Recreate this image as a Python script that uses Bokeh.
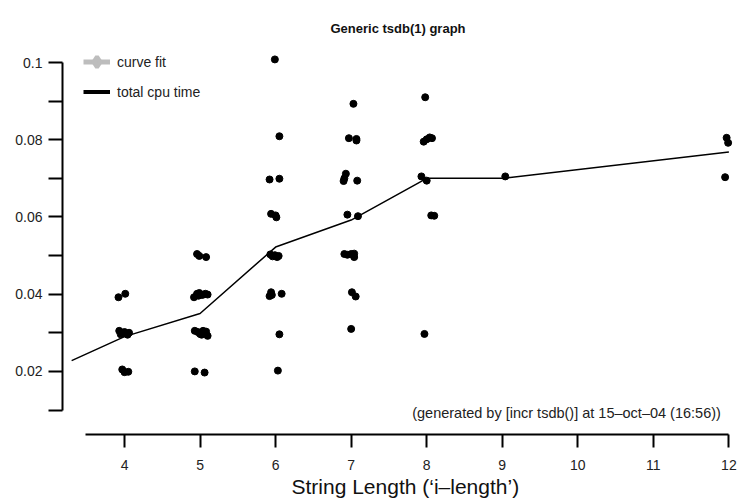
from bokeh.plotting import figure
from bokeh.models import (Range1d, FixedTicker, CustomJSTickFormatter, Legend,
                          LegendItem, Label, Title)
from bokeh.embed import file_html
from bokeh.resources import INLINE

# ---- data ----
title_text = "Generic tsdb(1) graph"
x_label = "String Length (\u2018i\u2013length\u2019)"
note_text = "(generated by [incr tsdb()] at 15\u2013oct\u201304 (16:56))"

x_ticks = [4, 5, 6, 7, 8, 9, 10, 11, 12]
y_major = [0.02, 0.04, 0.06, 0.08, 0.1]
y_minor = [0.01, 0.03, 0.05, 0.07, 0.09]
x_axis_bounds = (3.484, 12)
y_axis_bounds = (0.01, 0.1)

# individual measurements (x jittered around the string length)
len4_x = [3.92, 4.01, 3.93, 3.97, 4.0, 4.04, 4.06, 3.95, 3.97, 4.0, 4.05]
len4_y = [0.0392, 0.0401, 0.0305, 0.0298, 0.0302, 0.0295, 0.0300, 0.0296, 0.0205, 0.0198, 0.0199]

len5_x = [4.96, 4.99, 5.08, 4.92, 4.96, 4.99, 5.03, 5.07, 5.10, 4.98,
          4.93, 4.97, 5.00, 5.04, 5.08, 5.10, 5.02, 4.93, 5.06]
len5_y = [0.0504, 0.0499, 0.0496, 0.0392, 0.0401, 0.0403, 0.0398, 0.0401, 0.0399, 0.0396,
          0.0305, 0.0302, 0.0297, 0.0305, 0.0303, 0.0292, 0.0295, 0.0200, 0.0197]

len6_x = [5.99, 6.05, 5.92, 6.05, 5.94, 6.00, 6.01, 5.93, 5.96, 5.99, 6.02, 6.04,
          5.92, 5.94, 5.95, 6.08, 6.05, 6.03]
len6_y = [0.1008, 0.0809, 0.0697, 0.0699, 0.0608, 0.0604, 0.0599, 0.0503, 0.0498, 0.0501, 0.0496, 0.0499,
          0.0395, 0.0405, 0.0398, 0.0401, 0.0296, 0.0202]

len7_x = [7.03, 6.97, 7.07, 7.07, 6.93, 6.90, 7.08, 6.91, 6.95, 7.09,
          6.91, 6.95, 7.00, 7.04, 7.04, 7.01, 7.06, 7.00]
len7_y = [0.0893, 0.0804, 0.0802, 0.0798, 0.0712, 0.0693, 0.0694, 0.0700, 0.0606, 0.0602,
          0.0504, 0.0502, 0.0504, 0.0496, 0.0505, 0.0405, 0.0394, 0.0310]

len8_x = [7.98, 7.96, 8.00, 8.04, 8.07, 7.93, 8.00, 8.06, 8.10, 7.97]
len8_y = [0.0910, 0.0795, 0.0801, 0.0806, 0.0804, 0.0705, 0.0694, 0.0604, 0.0603, 0.0297]

len9_x = [9.04]
len9_y = [0.0705]

len12_x = [11.97, 11.99, 11.95]
len12_y = [0.0805, 0.0792, 0.0703]

# mean total cpu time per string length
mean_x = [3.3, 4, 5, 6, 7, 8, 9, 12]
mean_y = [0.0228, 0.0290, 0.0350, 0.0522, 0.0592, 0.0700, 0.0700, 0.0768]

pts_x = len4_x + len5_x + len6_x + len7_x + len8_x + len9_x + len12_x
pts_y = len4_y + len5_y + len6_y + len7_y + len8_y + len9_y + len12_y

FONT = "Liberation Sans"
NAN = float("nan")

p = figure(width=737, height=499, output_backend="svg", toolbar_location=None,
           x_range=Range1d(3.179, 12.061), y_range=Range1d(0.003655, 0.1057),
           min_border_left=62, min_border_right=4, min_border_top=40,
           min_border_bottom=65, title=title_text)
p.outline_line_color = None
p.grid.visible = False
p.background_fill_color = "white"
p.border_fill_color = "white"

p.title.text_font = FONT
p.title.text_font_size = "13px"
p.title.text_font_style = "bold"
p.title.align = "center"
p.title.text_line_height = 1.5
p.title.text_color = "#111111"
p.title.standoff = 10

# x axis
xa = p.xaxis[0]
xa.ticker = FixedTicker(ticks=x_ticks)
xa.bounds = x_axis_bounds
xa.axis_line_width = 2
xa.major_tick_line_width = 2
xa.major_tick_out = 13
xa.major_tick_in = 0
xa.minor_tick_line_color = None
xa.major_label_text_font = FONT
xa.major_label_text_font_size = "14px"
xa.major_label_text_color = "#222222"
xa.major_label_standoff = 12

# x axis title (placed so it is centred on the bounded axis line)
xtitle = Title(text=x_label, align="left", offset=229, standoff=0,
               text_font=FONT, text_font_size="21px", text_font_style="normal",
               text_color="#111111")
p.add_layout(xtitle, "below")

# y axis
ya = p.yaxis[0]
ya.ticker = FixedTicker(ticks=y_major, minor_ticks=y_minor)
ya.bounds = y_axis_bounds
ya.formatter = CustomJSTickFormatter(code="return String(Math.round(tick*100)/100);")
ya.axis_line_width = 2
ya.major_tick_line_width = 2
ya.minor_tick_line_width = 2
ya.major_tick_out = 14
ya.major_tick_in = 0
ya.minor_tick_out = 14
ya.minor_tick_in = 0
ya.major_label_text_font = FONT
ya.major_label_text_font_size = "14px"
ya.major_label_text_color = "#222222"
ya.major_label_standoff = 6

# data
p.line(mean_x, mean_y, line_color="black", line_width=1.5)
p.scatter(pts_x, pts_y, size=7, marker="circle", fill_color="black", line_color="black")

# legend swatches (no visible data of their own)
fit_line = p.line(x=[NAN], y=[NAN], line_color="#bdbdbd", line_width=5)
fit_mark = p.scatter(x=[NAN], y=[NAN], marker="diamond", fill_color="#bdbdbd",
                     line_color="#bdbdbd", line_width=4)
cpu_line = p.line(x=[NAN], y=[NAN], line_color="black", line_width=4)

legend = Legend(items=[LegendItem(label="curve fit", renderers=[fit_line, fit_mark]),
                       LegendItem(label="total cpu time", renderers=[cpu_line])],
                location=(21, 329), orientation="vertical")
legend.background_fill_alpha = 0
legend.border_line_color = None
legend.padding = 0
legend.margin = 0
legend.spacing = 3
legend.glyph_width = 27
legend.glyph_height = 27
legend.label_height = 27
legend.label_standoff = 7
legend.label_text_font = FONT
legend.label_text_font_size = "14px"
legend.label_text_color = "#222222"
p.add_layout(legend)

note = Label(x=12, y=0.00935, x_offset=-8, text=note_text, text_align="right",
             text_baseline="middle", text_font=FONT, text_font_size="14.5px",
             text_color="#222222")
p.add_layout(note)

open("out.html", "w").write(file_html(p, INLINE))
